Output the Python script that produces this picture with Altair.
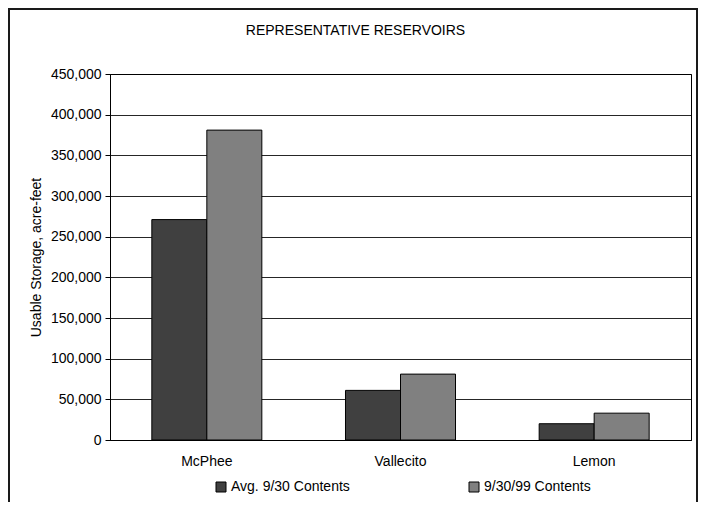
import altair as alt
import pandas as pd

categories = ["McPhee", "Vallecito", "Lemon"]
series = ["Avg. 9/30 Contents", "9/30/99 Contents"]
avg_values = [271000, 61000, 20000]
y99_values = [381000, 81000, 33000]
y_ticks = [0, 50000, 100000, 150000, 200000, 250000, 300000, 350000, 400000, 450000]

rows = []
for c, a, b in zip(categories, avg_values, y99_values):
    rows.append({"Reservoir": c, "Series": series[0], "Storage": a})
    rows.append({"Reservoir": c, "Series": series[1], "Storage": b})
df = pd.DataFrame(rows)

FONT = "Liberation Sans"
FS = 14

bars = alt.Chart(df).mark_bar(stroke="black", strokeWidth=1).encode(
    x=alt.X("Reservoir:N", sort=categories,
            scale=alt.Scale(paddingInner=0.432, paddingOuter=0.216),
            axis=alt.Axis(title=None, labelAngle=0, tickSize=0, labelPadding=14,
                          labelFontSize=FS, labelColor="black",
                          domainColor="black", grid=False)),
    xOffset=alt.XOffset("Series:N", sort=series),
    y=alt.Y("Storage:Q", scale=alt.Scale(domain=[0, 450000], nice=False),
            axis=alt.Axis(title="Usable Storage, acre-feet", values=y_ticks, format=",.0f",
                          tickSize=5, tickColor="black", labelPadding=4,
                          labelFontSize=FS, labelColor="black",
                          titleFontSize=FS, titleFontWeight="normal", titleColor="black",
                          titlePadding=7, domainColor="black",
                          grid=True, gridColor="black", gridOpacity=0.85)),
    color=alt.Color("Series:N", sort=series,
                    scale=alt.Scale(domain=series, range=["#404040", "#808080"]),
                    legend=alt.Legend(title=None, orient="none", legendX=104, legendY=406,
                                      direction="horizontal", symbolType="square",
                                      symbolSize=100, symbolStrokeColor="black",
                                      symbolStrokeWidth=1, labelFontSize=FS,
                                      labelColor="black", labelOffset=3,
                                      columnPadding=117)),
)

frame_df = pd.DataFrame({"k": [0]})
left_border = alt.Chart(frame_df).mark_rule(color="#1a1a1a", strokeWidth=2).encode(
    x=alt.value(-101), y=alt.value(-65), y2=alt.value(430))
right_border = alt.Chart(frame_df).mark_rule(color="#1a1a1a", strokeWidth=2).encode(
    x=alt.value(587), y=alt.value(-65), y2=alt.value(430))
top_border = alt.Chart(frame_df).mark_rule(color="#1a1a1a", strokeWidth=2).encode(
    x=alt.value(-102), x2=alt.value(588), y=alt.value(-65))

chart = alt.layer(bars, left_border, right_border, top_border).properties(
    width=581, height=366,
    title=alt.TitleParams("REPRESENTATIVE RESERVOIRS", fontSize=FS, fontWeight="normal",
                          color="black", frame="group", offset=-30, dx=-45),
    autosize=alt.AutoSizeParams(type="none"),
    padding={"left": 102, "top": 66, "right": 8, "bottom": 62},
).configure(font=FONT).configure_view(stroke="black", strokeWidth=1)

chart.save("out.html", embed_options={"renderer": "svg", "actions": False})
